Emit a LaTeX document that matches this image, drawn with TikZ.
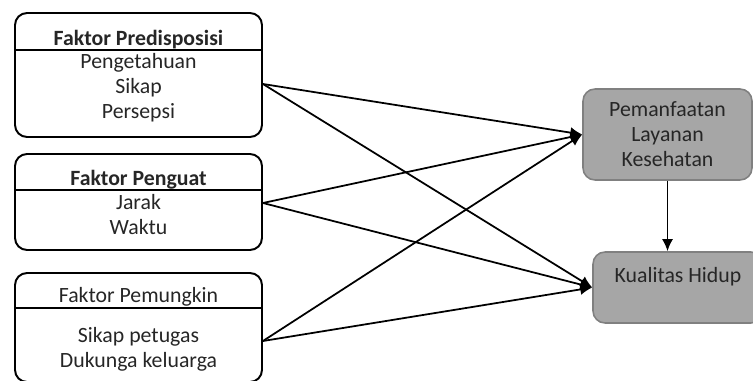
\documentclass[tikz,border=0pt]{standalone}
\usepackage{fontspec}
\setmainfont{Carlito}
\usetikzlibrary{arrows.meta,positioning,calc}

\begin{document}
\begin{tikzpicture}[
    x=0.02cm,
    y=-0.02cm,
    faktor/.style={draw, line width=1.1pt, rounded corners=0.24cm, minimum width=4.94cm, inner sep=0pt},
    hasil/.style={draw=black!50, fill=black!35, line width=0.9pt, rounded corners=0.24cm, inner sep=0pt, align=center, font=\fontsize{12.4}{14.2}\selectfont, text=black!85},
    isi/.style={align=center, font=\fontsize{12.4}{14.2}\selectfont, text=black!85, inner sep=0pt},
    arrow/.style={-{Latex[length=0.24cm, width=0.22cm]}, line width=1pt},
  ]
    \useasboundingbox (0,0) rectangle (753,381);

    % -- faktor di kiri --
    \node[faktor, minimum height=2.48cm] (pre) at (138.5, 75) {};
    \node[faktor, minimum height=1.92cm] (pen) at (138.5, 202) {};
    \node[faktor, minimum height=2.18cm] (pem) at (138.5, 327.5) {};

    \draw[line width=0.9pt] (pre.west |- 0,50) -- (pre.east |- 0,50);
    \draw[line width=0.9pt] (pen.west |- 0,190) -- (pen.east |- 0,190);
    \draw[line width=0.9pt] (pem.west |- 0,308) -- (pem.east |- 0,308);

    \node[isi, font=\fontsize{12.4}{14.2}\selectfont\bfseries] (pre-judul) at (138.5, 40) {Faktor Predisposisi};
    \node[isi] (pre-isi) at (138.5, 88) {Pengetahuan\\Sikap\\Persepsi};
    \node[isi, font=\fontsize{12.4}{14.2}\selectfont\bfseries] (pen-judul) at (138.5, 180) {Faktor Penguat};
    \node[isi] (pen-isi) at (138.5, 214.5) {Jarak\\Waktu};
    \node[isi] (pem-judul) at (138.5, 297) {Faktor Pemungkin};
    \node[isi] (pem-isi) at (138.5, 349) {Sikap petugas\\Dukunga keluarga};

    % -- hasil di kanan --
    \node[hasil, minimum width=3.38cm, minimum height=1.82cm] (plk) at (667.5, 134.5) {Pemanfaatan\\Layanan\\Kesehatan};
    \node[hasil, minimum width=3.4cm, minimum height=1.42cm] (kh) at (678, 287.5) {Kualitas Hidup\\\mbox{}};

    % -- titik keluar panah --
    \coordinate (pre-out) at ($(pre.east)+(0,9)$);
    \coordinate (pen-out) at ($(pen.east)+(0,1)$);
    \coordinate (pem-out) at ($(pem.east)+(0,13.5)$);

    % -- panah --
    \draw[arrow] (pre-out) -- (plk.west);
    \draw[arrow] (pre-out) -- (kh.west);
    \draw[arrow] (pen-out) -- (plk.west);
    \draw[arrow] (pen-out) -- (kh.west);
    \draw[arrow] (pem-out) -- (plk.west);
    \draw[arrow] (pem-out) -- (kh.west);

    \draw[arrow] (plk.south) -- (plk.south |- kh.north);
  \end{tikzpicture}
\end{document}
